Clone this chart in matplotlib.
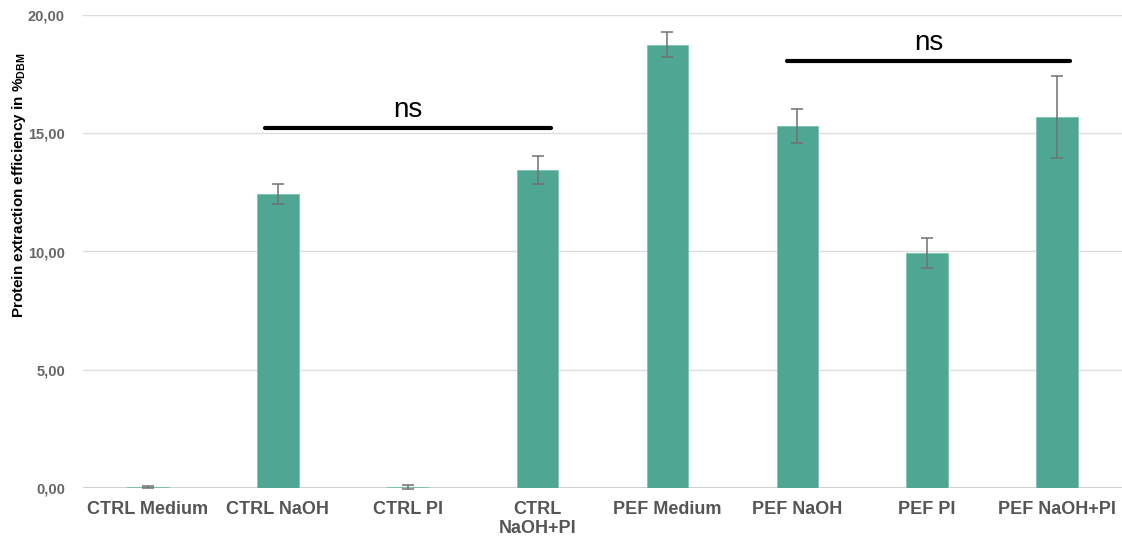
import matplotlib
matplotlib.use("Agg")
import matplotlib.pyplot as plt

plt.rcParams["font.family"] = ["Liberation Sans", "DejaVu Sans"]
plt.rcParams["mathtext.fontset"] = "custom"
plt.rcParams["mathtext.bf"] = "Liberation Sans:bold"
plt.rcParams["mathtext.rm"] = "Liberation Sans"

categories = ["CTRL Medium", "CTRL NaOH", "CTRL PI", "CTRL\nNaOH+PI",
              "PEF Medium", "PEF NaOH", "PEF PI", "PEF NaOH+PI"]
values = [0.03, 12.43, 0.05, 13.45, 18.75, 15.3, 9.94, 15.69]
errors = [0.05, 0.42, 0.08, 0.6, 0.53, 0.72, 0.63, 1.73]
yticks = [0, 5, 10, 15, 20]
ytick_labels = ["0,00", "5,00", "10,00", "15,00", "20,00"]
sig_brackets = [(0.9, 3.1, 15.22, "ns"), (4.92, 7.1, 18.05, "ns")]

W, H = 1122, 542
fig = plt.figure(figsize=(W / 100, H / 100), dpi=100)
left, right, bottom, top = 83, 1122, 488, 15
ax = fig.add_axes([left / W, 1 - bottom / H, (right - left) / W, (bottom - top) / H])

x = list(range(len(categories)))
ax.bar(x, values, width=0.32, color="#4fa693", edgecolor="#7cc4b4", linewidth=0.6, zorder=3)
ax.errorbar(x, values, yerr=errors, fmt="none", ecolor="#707070", elinewidth=1.1,
            capsize=4, capthick=1.1, zorder=4, clip_on=False)

ax.set_xlim(-0.5, 7.5)
ax.set_ylim(0, 20)
ax.set_yticks(yticks)
ax.set_yticklabels(ytick_labels, fontsize=10.5, fontweight="bold", color="#666666")
ax.set_xticks(x)
ax.set_xticklabels(categories, fontsize=13, fontweight="bold", color="#555555", linespacing=1.2)
ax.tick_params(axis="both", length=0)
ax.tick_params(axis="y", pad=13)
ax.tick_params(axis="x", pad=9)
for s in ax.spines.values():
    s.set_visible(False)
ax.grid(axis="y", color="#dddddd", linewidth=1, zorder=0)
ax.axhline(0, color="#d0d0d0", linewidth=1.5, zorder=2)

fig.text(19 / W, 1 - 185 / H, r"Protein extraction efficiency in %$_{\mathbf{DBM}}$",
         rotation=90, ha="center", va="center", fontsize=11, fontweight="bold", color="black")

for x0, x1, y, txt in sig_brackets:
    ax.plot([x0, x1], [y, y], color="black", linewidth=3, solid_capstyle="round", zorder=5, clip_on=False)
    ax.text((x0 + x1) / 2, y + 0.2, txt, ha="center", va="bottom", fontsize=20, color="black")

fig.savefig("out.png", dpi=100)
